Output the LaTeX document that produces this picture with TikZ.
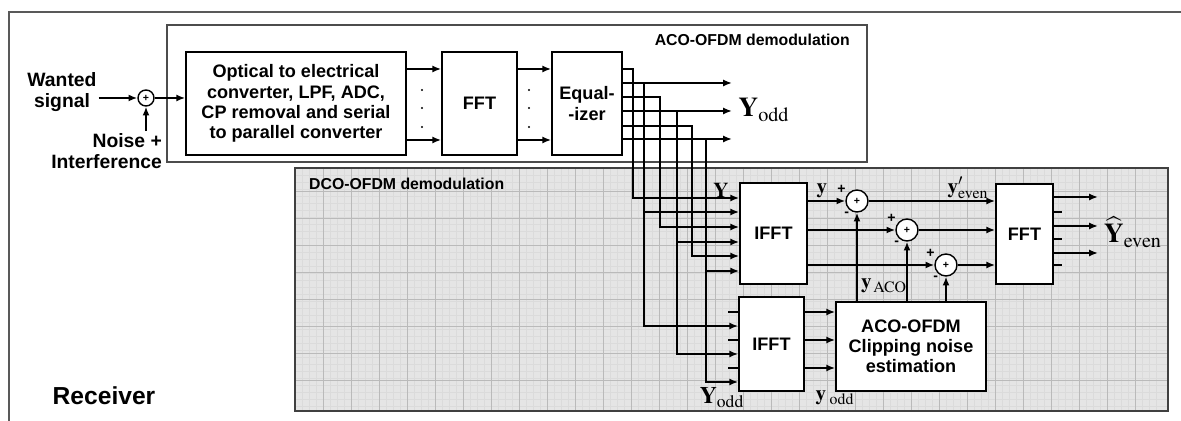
\documentclass[tikz,border=0pt]{standalone}
\usepackage{mathptmx}
\usepackage[no-math]{fontspec}
\setmainfont{Liberation Sans}
\usetikzlibrary{arrows.meta}

\begin{document}
\begin{tikzpicture}[
    x=0.02cm,
    y=-0.02cm,
    block/.style={
        draw,
        line width=0.9pt,
        fill=white,
        align=center,
        inner sep=1pt,
        font=\bfseries\fontsize{10.3}{11.5}\selectfont
    },
    summer/.style={
        circle,
        draw,
        fill=white,
        line width=0.8pt,
        minimum size=0.44cm,
        inner sep=0pt,
        font=\bfseries\fontsize{6}{6}\selectfont
    },
    sign/.style={
        font=\bfseries\fontsize{8}{8}\selectfont,
        inner sep=0.5pt
    },
    wire/.style={line width=1pt},
    sig/.style={
        line width=1pt,
        -{Latex[length=5pt,width=4pt]}
    },
    frame label/.style={font=\bfseries\fontsize{9}{10}\selectfont},
    side label/.style={font=\bfseries\fontsize{11}{12}\selectfont, align=center, inner sep=1pt},
    vec/.style={font=\fontsize{15.5}{16}\selectfont, inner sep=1pt},
    smallvec/.style={font=\fontsize{12}{12}\selectfont, inner sep=1pt},
    minorgrid/.style={black!14, line width=0.15pt},
    majorgrid/.style={black!27, line width=0.4pt}
]
\useasboundingbox (0,0) rectangle (1181,421);

\draw[line width=1pt, black!65] (9,421) -- (9,12) -- (1181,12);

\draw[line width=1pt, black!70, fill=white] (167,25) rectangle (867,162);
\node[frame label, anchor=east] (acolbl) at (856,40) {ACO-OFDM demodulation};

\fill[black!10] (295,168) rectangle (1168,411);
\foreach \gx in {302,309,...,1162}
    \draw[minorgrid] (\gx,168) -- (\gx,411);
\foreach \gy in {175,182,...,408}
    \draw[minorgrid] (295,\gy) -- (1168,\gy);
\foreach \gx in {323,351,...,1160}
    \draw[majorgrid] (\gx,168) -- (\gx,411);
\foreach \gy in {191,218,...,405}
    \draw[majorgrid] (295,\gy) -- (1168,\gy);
\draw[line width=1pt, black!75] (295,168) rectangle (1168,411);
\node[frame label, anchor=west] (dcolbl) at (303,184) {DCO-OFDM demodulation};

\node[font=\bfseries\fontsize{14}{16}\selectfont] (rx) at (104,396) {Receiver};

\node[side label] (wanted) at (62,92) {Wanted\\signal};
\node[side label, align=right, anchor=east] (noise) at (164,151) {Noise +\\Interference};
\node[summer, minimum size=0.32cm] (s0) at (146,98) {+};

\node[block, minimum width=4.4cm, minimum height=2.06cm] (conv) at (296,103.5)
    {Optical to electrical\\converter, LPF, ADC,\\CP removal and serial\\to parallel converter};
\node[block, minimum width=1.5cm, minimum height=2.06cm] (fft1) at (479.5,103.5) {FFT};
\node[block, minimum width=1.4cm, minimum height=2.06cm] (eq) at (587,103.5) {Equal-\\-izer};
\node[block, minimum width=1.34cm, minimum height=2.02cm] (ifft1) at (773.5,233.5) {IFFT};
\node[block, minimum width=1.3cm, minimum height=1.88cm] (ifft2) at (771.5,344) {IFFT};
\node[block, minimum width=3cm, minimum height=1.78cm] (aco) at (911,346.5)
    {ACO-OFDM\\Clipping noise\\estimation};
\node[block, minimum width=1.14cm, minimum height=2cm] (fft2) at (1024.5,234) {FFT};

\node[summer, label={[sign]150:+}, label={[sign]235:-}] (s1) at (857,201) {+};
\node[summer, label={[sign]150:+}, label={[sign]235:-}] (s2) at (907,230) {+};
\node[summer, label={[sign]150:+}, label={[sign]235:-}] (s3) at (946,265) {+};

\node[vec] (yodd) at (764,110) {$\mathbf{Y}_{\mathrm{odd}}$};
\node[smallvec] (ylbl) at (721,190) {$\mathbf{Y}$};
\node[smallvec] (yt) at (822,191) {$\mathbf{y}$};
\node[smallvec] (yeven) at (968,188) {$\mathbf{y}'_{\mathrm{even}}$};
\node[smallvec] (yaco) at (884,286) {$\mathbf{y}_{\,\mathrm{ACO}}$};
\node[smallvec, font=\fontsize{13.5}{14}\selectfont] (yoddb) at (722,398) {$\mathbf{Y}_{\mathrm{odd}}$};
\node[smallvec] (ytodd) at (835,398) {$\mathbf{y}_{\;\mathrm{odd}}$};
\node[vec, anchor=west] (yhat) at (1102,232) {$\widehat{\mathbf{Y}}_{\mathrm{even}}$};

\coordinate (yoddtip) at (732,110);
\coordinate (yhattip) at (1098,230);

\draw[sig] (wanted.east |- s0) -- (s0.west);
\draw[sig] (s0 |- noise.north) -- (s0.south);
\draw[sig] (s0.east) -- (conv.west |- s0);

\foreach \yy in {69,140} {
    \draw[sig] (conv.east |- 0,\yy) -- (fft1.west |- 0,\yy);
    \draw[sig] (fft1.east |- 0,\yy) -- (eq.west |- 0,\yy);
}
\foreach \yy in {90,108,127} {
    \fill (422,\yy) circle (0.7pt);
    \fill (529,\yy) circle (0.7pt);
}

\foreach \ye/\xv/\yi in {69/633/198, 97/660/227, 126/692/256}
    \draw[sig] (eq.east |- 0,\ye) -| (\xv,\yi) -- (ifft1.west |- 0,\yi);

\foreach \yo/\xv/\yi/\yb in {83/644/212/326, 111/677/242/354, 139/706/271/382} {
    \draw[sig] (eq.east |- 0,\yo) -- (yoddtip |- 0,\yo);
    \draw[sig] (\xv,\yo) -- (\xv,\yb) -- (ifft2.west |- 0,\yb);
    \draw[sig] (\xv,\yi) -- (ifft1.west |- 0,\yi);
}

\foreach \yy in {312,340,368} {
    \draw[wire] (728,\yy) -- (ifft2.west |- 0,\yy);
    \draw[sig] (ifft2.east |- 0,\yy) -- (aco.west |- 0,\yy);
}

\foreach \s in {s1,s2,s3} {
    \draw[sig] (ifft1.east |- \s) -- (\s.west);
    \draw[sig] (\s.east) -- (fft2.west |- \s);
    \draw[sig] (aco.north -| \s) -- (\s.south);
}

\foreach \yy in {197,226,253}
    \draw[sig] (fft2.east |- 0,\yy) -- (yhattip |- 0,\yy);
\foreach \yy in {212,239,265}
    \draw[wire] (fft2.east |- 0,\yy) -- (1062,\yy);

\end{tikzpicture}
\end{document}
